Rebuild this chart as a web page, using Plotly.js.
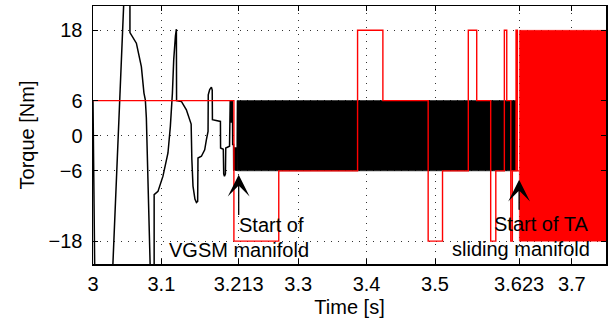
<!DOCTYPE html>
<html>
<head>
<meta charset="utf-8">
<script src="https://cdn.plot.ly/plotly-3.0.1.min.js"></script>
<style>html,body{margin:0;padding:0;background:#fff;}#chart{width:611px;height:325px;}</style>
</head>
<body>
<div id="chart"></div>
<script>
// Measured torque (black) before the chattering band
const torqueTime = [3, 3.0027, 3.0280, 3.0458, 3.0540, 3.0540, 3.0634, 3.0682, 3.0707, 3.0745, 3.0765, 3.0780, 3.0839, 3.0842,
  3.0894, 3.0894, 3.0950, 3.1023, 3.1096, 3.1131, 3.1161, 3.1180, 3.1205, 3.1219, 3.1222,
  3.1292, 3.1365, 3.1414, 3.1435, 3.1445, 3.1462, 3.1490, 3.1512, 3.1530, 3.1535, 3.1585, 3.1633, 3.1658, 3.1682,
  3.1685, 3.1706, 3.1731, 3.1743, 3.1746, 3.1863, 3.1865, 3.1905, 3.1911, 3.1922, 3.1936, 3.1941, 3.1996, 3.1999,
  3.2003, 3.2006, 3.2009, 3.2012, 3.2015, 3.2018, 3.2021, 3.2024, 3.2027, 3.2030, 3.2033, 3.2036, 3.2040,
  3.2042, 3.2055, 3.2057, 3.2065, 3.2067, 3.2085, 3.2087, 3.2092, 3.2097, 3.2102, 3.2106, 3.2112];
const torqueValue = [6, -25, -25, 25, 25, 17.6, 15.8, 12.95, 11.8, 7.28, 6.14, 3.07, -21.6, -25,
  -25, -10.06, -9.5, -6.9, -2.95, 1.59, 7.28, 12.95, 17.0, 18.2, 6.0,
  5.85, 4.43, 2.73, 2.0, -4.0, -8.6, -10.8, -11.4, -11.2, -3.8, -3.5, -2.4, -0.68, 0.73,
  7.0, 7.9, 8.3, 7.8, 2.73, 2.44, -2.1, -2.3, -6.5, -6.9, -6.5, -2.1, -1.8, 6,
  2.2, 6, 2.2, 6, 2.2, 6, 2.2, 6, 2.2, 6, 2.2, 6, 2.2,
  -1.5, -1.5, -5.8, -5.8, -2.1, -2.1, -6, -2, -6, -2, -6, 6];

// Envelope of the black chattering band (VGSM)
const vgsmBandTime = [3.2112, 3.6205];
const vgsmBandLimits = [-6, 6];

// Red switching torque (step signal)
const switchTime = [3, 3.2060, 3.2716, 3.3868, 3.4238, 3.4900, 3.5110, 3.5487, 3.5610, 3.5814, 3.5889,
  3.6014, 3.6049, 3.6108, 3.6131, 3.6185, 3.6204, 3.6233];
const switchValue = [6, -18, -6, 18, 6, -18, -6, 18, 6, -18, -6, 18, 6, -18, -6, 18, -6, -6];

// Envelope of the red chattering band (TA sliding manifold)
const taBandTime = [3.6233, 3.75];
const taBandLimits = [-18, 18];

const xTicks = [3, 3.1, 3.213, 3.3, 3.4, 3.5, 3.623, 3.7];
const xTickText = ['3', '3.1', '3.213', '3.3', '3.4', '3.5', '3.623', '3.7'];
const yTicks = [-18, -6, 0, 6, 18];
const yTickText = ['\u221218', '\u22126', '0', '6', '18'];

function bandPolygon(t, lim) {
  return {
    x: [t[0], t[1], t[1], t[0], t[0]],
    y: [lim[1], lim[1], lim[0], lim[0], lim[1]]
  };
}
const vb = bandPolygon(vgsmBandTime, vgsmBandLimits);
const tb = bandPolygon(taBandTime, taBandLimits);

const FONT = 'Liberation Sans, Arial, Helvetica, sans-serif';
const FS = 20;

const traces = [
  {x: torqueTime, y: torqueValue, mode: 'lines', line: {color: '#000', width: 1.5}, hoverinfo: 'skip'},
  {x: vb.x, y: vb.y, mode: 'lines', fill: 'toself', fillcolor: '#000', line: {color: '#000', width: 0.5}, hoverinfo: 'skip'},
  {x: switchTime, y: switchValue, mode: 'lines', line: {color: '#ff0000', width: 1.4, shape: 'hv'}, hoverinfo: 'skip'},
  {x: tb.x, y: tb.y, mode: 'lines', fill: 'toself', fillcolor: '#ff0000', line: {color: '#ff0000', width: 0.5}, hoverinfo: 'skip'}
];

const axisCommon = {
  showline: true, linecolor: '#000', linewidth: 1.5, mirror: 'ticks',
  ticks: 'inside', ticklen: 5, tickcolor: '#000', tickwidth: 1,
  showgrid: true, gridcolor: '#333', gridwidth: 1, griddash: '1px,6px',
  zeroline: false, tickfont: {family: FONT, size: FS, color: '#000'}
};

const layout = {
  width: 611, height: 325,
  margin: {l: 93, r: 5, t: 6, b: 61},
  paper_bgcolor: '#fff', plot_bgcolor: '#fff',
  showlegend: false,
  xaxis: Object.assign({}, axisCommon, {
    range: [3, 3.75], tickmode: 'array', tickvals: xTicks, ticktext: xTickText,
    ticklabelstandoff: 1,
    title: {text: 'Time [s]', font: {family: FONT, size: FS, color: '#000'}, standoff: 6}
  }),
  yaxis: Object.assign({}, axisCommon, {
    range: [-21.9, 22.15], tickmode: 'array', tickvals: yTicks, ticktext: yTickText,
    ticklabelstandoff: 5,
    title: {text: 'Torque [Nm]', font: {family: FONT, size: FS, color: '#000'}, standoff: 8}
  }),
  annotations: [
    {x: 3.213, y: -6.65, ax: 3.213, ay: -13.8, axref: 'x', ayref: 'y', xref: 'x', yref: 'y',
     showarrow: true, arrowhead: 3, arrowsize: 2.8, arrowwidth: 1.3, arrowcolor: '#000', text: ''},
    {x: 3.623, y: -7.5, ax: 3.623, ay: -12.9, axref: 'x', ayref: 'y', xref: 'x', yref: 'y',
     showarrow: true, arrowhead: 3, arrowsize: 2.8, arrowwidth: 1.3, arrowcolor: '#000', text: ''},
    {x: 3.2106, y: -15.2, xref: 'x', yref: 'y', text: 'Start of', showarrow: false, xanchor: 'left',
     font: {family: FONT, size: FS, color: '#000'}},
    {x: 3.213, y: -19.5, xref: 'x', yref: 'y', text: 'VGSM manifold', showarrow: false, xanchor: 'center',
     font: {family: FONT, size: FS, color: '#000'}},
    {x: 3.6544, y: -15.0, xref: 'x', yref: 'y', text: 'Start of TA', showarrow: false, xanchor: 'center',
     font: {family: FONT, size: FS, color: '#000'}},
    {x: 3.625, y: -19.4, xref: 'x', yref: 'y', text: 'sliding manifold', showarrow: false, xanchor: 'center',
     font: {family: FONT, size: FS, color: '#000'}}
  ]
};

Plotly.newPlot('chart', traces, layout, {staticPlot: true, displayModeBar: false});
</script>
</body>
</html>
